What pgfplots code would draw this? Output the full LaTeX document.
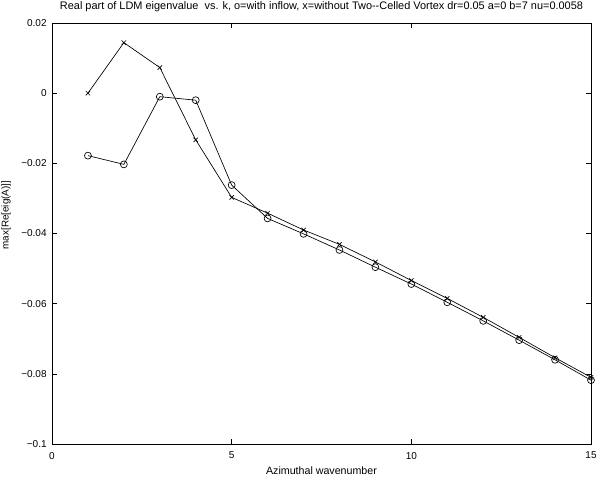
\documentclass[border=0pt]{standalone}
\usepackage{fontspec}
\setmainfont{Liberation Sans}
\usepackage{pgfplots}
\pgfplotsset{compat=1.18}

\begin{document}
\begin{tikzpicture}[x=1pt,y=1pt]
% page frame, 0.75 pt per px; axis box 539 x 421 px
\useasboundingbox (-39,-29.25) rectangle (420.75,333);
\begin{axis}[
  at={(0,0)}, anchor=south west,
  scale only axis,
  width=404.25pt, height=315.75pt,
  xmin=0, xmax=15, ymin=-0.1, ymax=0.02,
  xtick={0,5,10,15},
  ytick={-0.1,-0.08,-0.06,-0.04,-0.02,0,0.02},
  yticklabels={−0.1,−0.08,−0.06,−0.04,−0.02,0,0.02},
  /pgf/number format/assume math mode=true,
  tick align=inside, tick pos=both,
  major tick length=4pt,
  every tick/.style={black, line width=0.4pt},
  axis line style={line width=0.5pt},
  tick label style={font=\fontsize{7.5}{9}\selectfont},
  xticklabel style={yshift=-2.5pt},
  yticklabel style={xshift=-0.5pt},
  every axis title shift=0pt,
  title={Real part of LDM eigenvalue\ \ vs. k, o=with inflow, x=without Two-{}-Celled Vortex dr=0.05 a=0 b=7 nu=0.0058},
  title style={at={(0.5,1)}, anchor=center, yshift=12.4pt, font=\fontsize{8.2}{9}\selectfont, inner sep=0pt},
  xlabel={Azimuthal wavenumber},
  xlabel style={at={(0.5,0)}, anchor=center, yshift=-20.25pt, font=\fontsize{8}{9}\selectfont, inner sep=0pt},
  ylabel={max[Re[eig(A)]]},
  ylabel style={at={(0,0.544)}, anchor=center, yshift=34.5pt, font=\fontsize{7.4}{9}\selectfont, inner sep=0pt},
  every axis plot/.append style={black, line width=0.5pt},
]
% with inflow (o)
\addplot[mark=o, mark size=2.6pt] coordinates {
  (1,-0.0178) (2,-0.0203) (3,-0.0010) (4,-0.0020) (5,-0.0262)
  (6,-0.0357) (7,-0.0401) (8,-0.0447) (9,-0.0496) (10,-0.0544)
  (11,-0.0596) (12,-0.0649) (13,-0.0704) (14,-0.0760) (15,-0.0818)
};
% without inflow (x)
\addplot[mark=x, mark size=2.3pt] coordinates {
  (1,0.0000) (2,0.0144) (3,0.0073) (4,-0.0133) (5,-0.0297)
  (6,-0.0342) (7,-0.0390) (8,-0.0431) (9,-0.0481) (10,-0.0534)
  (11,-0.0585) (12,-0.0639) (13,-0.0696) (14,-0.0754) (15,-0.0810)
};
\end{axis}
\end{tikzpicture}
\end{document}
